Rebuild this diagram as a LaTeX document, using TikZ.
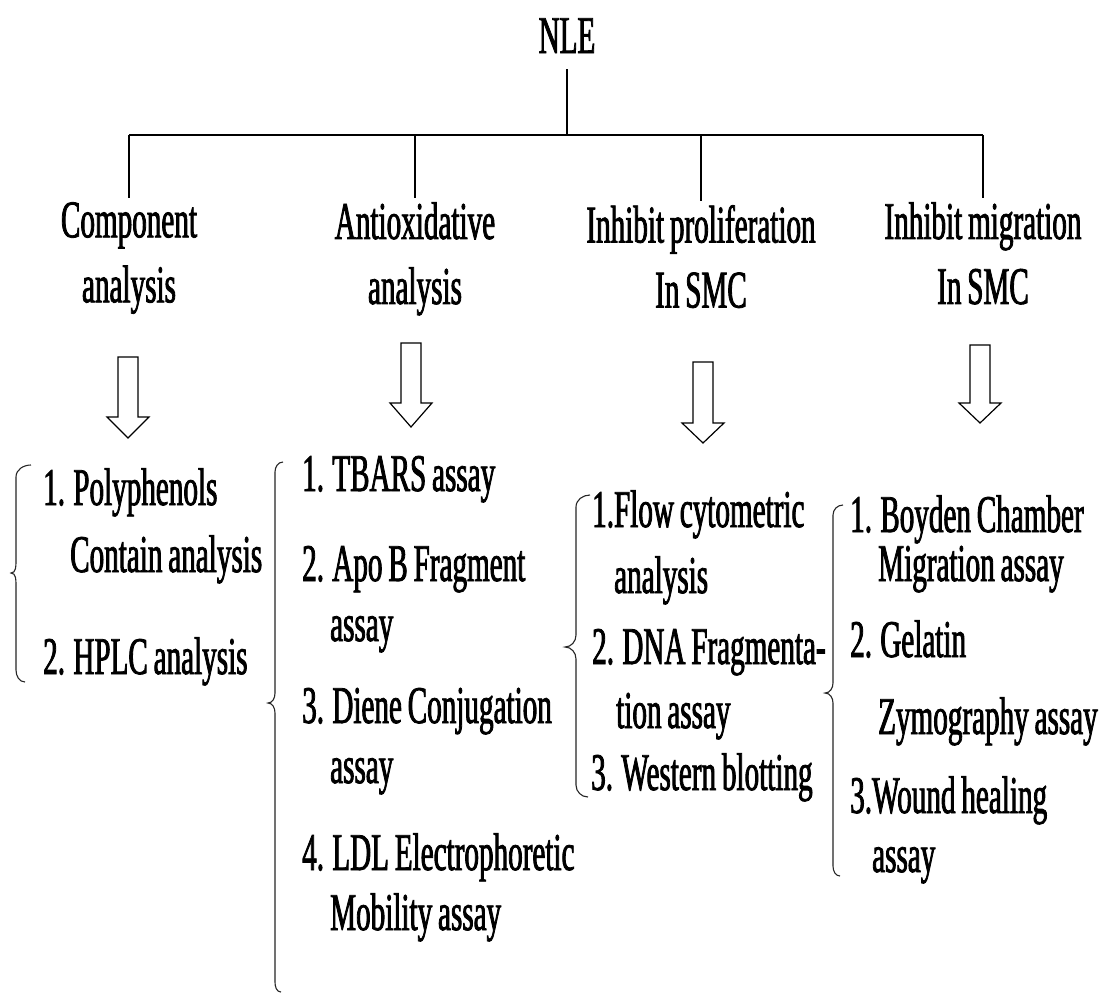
\documentclass[tikz,border=0pt]{standalone}
\usepackage{fontspec}
\newfontfamily\cf[FakeStretch=0.55,FakeBold=1.5,WordSpace=0.8]{Liberation Serif}
\newcommand\curlybr[9]{% xe_top ytop xv xt ymid xe_bot ybot r name
  \draw[bracel] (#1,-#2) to[out=180,in=90] (#3,-#2-#8) -- (#3,-#5+#8)
    to[out=-90,in=0] (#4,-#5) to[out=0,in=90] (#3,-#5-#8) -- (#3,-#7+#8)
    to[out=-90,in=180] (#6,-#7);
  \coordinate (#9) at (#4,-#5);}
\newcommand\blockarr[5]{% x top base tip name
  \draw[blockarrow] (#1-10,-#2) -- (#1+10,-#2) -- (#1+10,-#3) -- (#1+21,-#3)
    -- (#1,-#4) -- (#1-21,-#3) -- (#1-10,-#3) -- cycle;
  \coordinate (#5) at (#1,-#4);}
\begin{document}
\begin{tikzpicture}[x=1pt,y=1pt,
  txt/.style={inner sep=0pt, font=\cf\fontsize{53}{65}\selectfont},
  head/.style={txt, anchor=north, align=center},
  item/.style={txt, anchor=base west},
  tree/.style={line width=1.5pt, black},
  bracel/.style={line width=1.1pt, black!85},
  blockarrow/.style={draw, line width=1.2pt, line join=miter, fill=white}]
\useasboundingbox[fill=white] (0,0) rectangle (1102,-993);

% root and headers
\node[txt, anchor=base] (nle) at (567,-53) {NLE};
\node[head] (h1) at (129,-202) {Component\\analysis};
\node[head] (h2) at (415,-202) {Antioxidative\\analysis};
\node[head] (h3) at (701,-205) {Inhibit proliferation\\In SMC};
\node[head] (h4) at (983,-202) {Inhibit migration\\In SMC};

% tree
\coordinate (bus) at (567,-135);
\draw[tree, shorten <=16pt] (nle.south) -- (bus);
\draw[tree, line width=2pt] (h1.north |- bus) -- (h4.north |- bus);
\foreach \h in {h1,h2,h3,h4}
  \draw[tree, shorten >=4pt] (\h.north |- bus) -- (\h.north);

% block arrows
\blockarr{128}{357}{417}{438}{a1}
\blockarr{411}{343}{403}{427}{a2}
\blockarr{703}{362}{423}{443}{a3}
\blockarr{980}{345}{403}{423}{a4}

% column 1
\curlybr{31}{465}{16}{11}{573}{25}{682}{12}{b1}
\node[item] (l11) at (43,-505) {1. Polyphenols};
\node[item] (l12) at (70,-572) {Contain analysis};
\node[item] (l13) at (43,-674) {2. HPLC analysis};

% column 2
\curlybr{283}{462}{275}{268}{703}{281}{992}{10}{b2}
\node[item] (l21) at (302,-491) {1. TBARS assay};
\node[item] (l22) at (302,-581) {2. Apo B Fragment};
\node[item] (l23) at (330,-641) {assay};
\node[item] (l24) at (302,-723) {3. Diene Conjugation};
\node[item] (l25) at (330,-783) {assay};
\node[item] (l26) at (302,-870) {4. LDL Electrophoretic};
\node[item] (l27) at (330,-930) {Mobility assay};

% column 3
\curlybr{590}{495}{576}{565}{647}{588}{797}{12}{b3}
\node[item] (l31) at (592,-527) {1.Flow cytometric};
\node[item] (l32) at (614,-593) {analysis};
\node[item] (l33) at (592,-664) {2. DNA Fragmenta-};
\node[item] (l34) at (616,-728) {tion assay};
\node[item] (l35) at (591,-790) {3. Western blotting};

% column 4
\curlybr{843}{505}{833}{825}{693}{840}{876}{10}{b4}
\node[item] (l41) at (850,-532) {1. Boyden Chamber};
\node[item] (l42) at (878,-581) {Migration assay};
\node[item] (l43) at (850,-657) {2. Gelatin};
\node[item] (l44) at (878,-734) {Zymography assay};
\node[item] (l45) at (850,-813) {3.Wound healing};
\node[item] (l46) at (872,-872) {assay};
\end{tikzpicture}
\end{document}
